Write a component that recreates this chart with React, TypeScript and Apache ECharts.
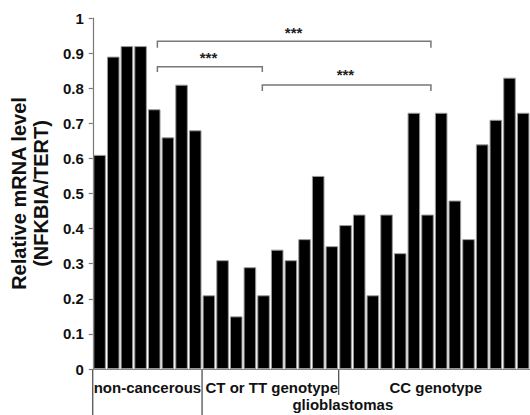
import React, { useEffect, useRef } from "react";
import * as echarts from "echarts";

const categories = [
  "N1", "N2", "N3", "N4", "N5", "N6", "N7", "N8",
  "T1", "T2", "T3", "T4", "T5", "T6", "T7", "T8", "T9", "T10",
  "C1", "C2", "C3", "C4", "C5", "C6", "C7", "C8", "C9", "C10", "C11", "C12", "C13", "C14",
];
const nonCancerous = [0.61, 0.89, 0.92, 0.92, 0.74, 0.66, 0.81, 0.68];
const ctTtGenotype = [0.21, 0.31, 0.15, 0.29, 0.21, 0.34, 0.31, 0.37, 0.55, 0.35];
const ccGenotype = [0.41, 0.44, 0.21, 0.44, 0.33, 0.73, 0.44, 0.73, 0.48, 0.37, 0.64, 0.71, 0.83, 0.73];

// group labels: text, centre (in category units), row
const groupLabels = [
  { text: "non-cancerous", at: 3.5, row: 0 },
  { text: "CT or TT genotype", at: 12.6, row: 0 },
  { text: "CC genotype", at: 24.6, row: 0 },
  { text: "glioblastomas", at: 17.8, row: 1 },
];
// group dividers (category boundaries) and how far down they go
const dividers = [
  { at: -0.5, depth: 50 },
  { at: 7.5, depth: 50 },
  { at: 17.5, depth: 26 },
];
// significance brackets: from/to in category units, y levels in data units
const brackets = [
  { from: 4.23, to: 24.25, top: 0.934, bottom: 0.915, star: 14.2, starY: 0.958 },
  { from: 4.23, to: 11.91, top: 0.861, bottom: 0.846, star: 7.97, starY: 0.888 },
  { from: 11.91, to: 24.25, top: 0.809, bottom: 0.792, star: 17.99, starY: 0.839 },
];

const FONT = "'Liberation Sans', Arial, Helvetica, sans-serif";

export default function App() {
  const ref = useRef<HTMLDivElement>(null);
  useEffect(() => {
    if (!ref.current) return;
    const chart = echarts.init(ref.current, null, { renderer: "svg" });
    const values = [...nonCancerous, ...ctTtGenotype, ...ccGenotype];
    chart.setOption({
      animation: false,
      grid: { left: 89, top: 18, right: -5, bottom: 46 },
      xAxis: {
        type: "category",
        data: categories,
        axisLine: { show: true, lineStyle: { color: "#888", width: 1 } },
        axisTick: { show: false },
        axisLabel: { show: false },
      },
      yAxis: {
        type: "value",
        min: 0,
        max: 1,
        interval: 0.1,
        splitLine: { show: false },
        axisLine: { show: true, lineStyle: { color: "#777", width: 1.2 } },
        axisTick: { show: true, length: 4, lineStyle: { color: "#777", width: 1.2 } },
        axisLabel: { color: "#111", fontWeight: "bold", fontSize: 15, margin: 9, fontFamily: FONT },
        name: "Relative mRNA level\n(NFKBIA/TERT)",
        nameLocation: "middle",
        nameGap: 36,
        nameRotate: 90,
        nameTextStyle: { fontSize: 20, fontWeight: "bold", color: "#111", lineHeight: 22, fontFamily: FONT },
      },
      series: [
        {
          type: "bar",
          data: values,
          barCategoryGap: "8%",
          itemStyle: { color: "#000", borderColor: "#999", borderWidth: 1 },
        },
      ],
    });

    const x0 = chart.convertToPixel({ xAxisIndex: 0 }, 0) as number;
    const x1 = chart.convertToPixel({ xAxisIndex: 0 }, 1) as number;
    const band = x1 - x0;
    const px = (c: number) => x0 + c * band;
    const py = (v: number) => chart.convertToPixel({ yAxisIndex: 0 }, v) as number;
    const yBase = py(0);

    const elements: any[] = [];
    brackets.forEach((b) => {
      elements.push({
        type: "polyline",
        shape: {
          points: [
            [px(b.from), py(b.bottom)],
            [px(b.from), py(b.top)],
            [px(b.to), py(b.top)],
            [px(b.to), py(b.bottom)],
          ],
        },
        style: { stroke: "#777", lineWidth: 1.5, fill: null },
      });
      elements.push({
        type: "text",
        x: px(b.star),
        y: py(b.starY),
        style: {
          text: "***",
          fill: "#222",
          font: `bold 15px ${FONT}`,
          textAlign: "center",
          textVerticalAlign: "middle",
        },
      });
    });
    dividers.forEach((d) => {
      elements.push({
        type: "line",
        shape: { x1: px(d.at), y1: yBase, x2: px(d.at), y2: yBase + d.depth },
        style: { stroke: "#444", lineWidth: 1.2 },
      });
    });
    groupLabels.forEach((g) => {
      elements.push({
        type: "text",
        x: px(g.at),
        y: yBase + 18 + g.row * 17,
        style: {
          text: g.text,
          fill: "#111",
          font: `bold 15px ${FONT}`,
          textAlign: "center",
          textVerticalAlign: "middle",
        },
      });
    });
    chart.setOption({ graphic: elements });

    return () => chart.dispose();
  }, []);

  return (
    <div
      ref={ref}
      style={{ position: "absolute", left: 0, top: 0, width: 530, height: 415 }}
    />
  );
}
